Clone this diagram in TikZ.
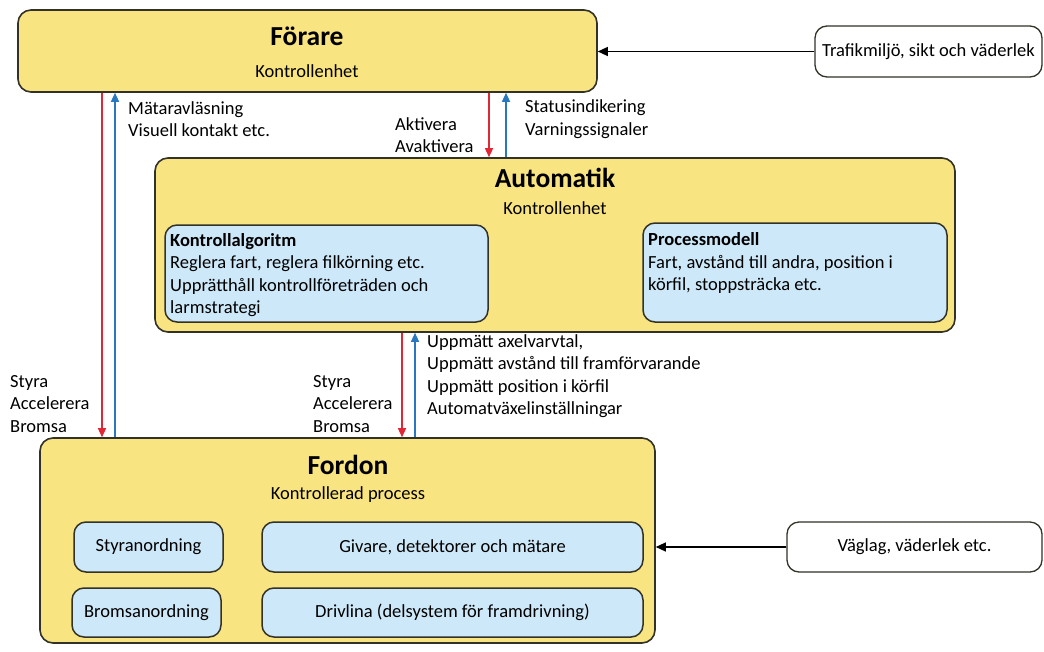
\documentclass[tikz,border=0pt]{standalone}
\usepackage{fontspec}
\setmainfont{Carlito}
\usetikzlibrary{arrows.meta,fit}
\definecolor{yel}{RGB}{249,228,130}
\definecolor{lblue}{RGB}{205,232,248}
\definecolor{bord}{RGB}{50,50,40}
\definecolor{rarr}{RGB}{226,38,52}
\definecolor{barr}{RGB}{40,120,192}
\begin{document}
\begin{tikzpicture}[x=1pt,y=-1pt,
  ybox/.style={draw=bord, line width=1.6pt, fill=yel, rounded corners=13pt, inner sep=0pt},
  bbox/.style={draw=bord, line width=1.5pt, fill=lblue, rounded corners=12pt, inner sep=0pt},
  wbox/.style={draw=bord, line width=1.3pt, fill=white, rounded corners=12pt, inner sep=0pt},
  txt/.style={font=\fontsize{18.5}{22.5}\selectfont, inner sep=0pt, align=left},
  ttl/.style={font=\fontsize{27.5}{30}\selectfont\bfseries, inner sep=0pt},
  redarr/.style={draw=rarr, line width=1.3pt, -{Triangle[length=9pt,width=8pt]}},
  bluearr/.style={draw=barr, line width=1.3pt, -{Triangle[length=9pt,width=8pt]}},
  blkarr/.style={draw=black, line width=1.3pt, -{Triangle[length=10pt,width=9pt]}}
]
\useasboundingbox (0,0) rectangle (1044,651);
\fill[white] (0,0) rectangle (1044,651);

% main boxes
\node[ybox, fit={(18,10) (597,92)}] (forare) {};
\node[ttl] (forareT) at (307,36) {Förare};
\node[txt] (forareS) at (307,71) {Kontrollenhet};

\node[wbox, fit={(815,26) (1042,77)}] (trafik) {};
\node[txt] (trafikT) at (trafik.center) {Trafikmiljö, sikt och väderlek};

\node[ybox, fit={(155,158) (955,332)}] (auto) {};
\node[ttl] (autoT) at (555,178) {Automatik};
\node[txt] (autoS) at (555,208) {Kontrollenhet};

\node[bbox, fit={(165,225) (488,322)}] (kalg) {};
\node[txt, anchor=west] (kalgT) at (170,275) {\textbf{Kontrollalgoritm}\\Reglera fart, reglera filkörning etc.\\Upprätthåll kontrollföreträden och\\larmstrategi};

\node[bbox, fit={(643,223) (947,322)}] (pmod) {};
\node[txt, anchor=west] (pmodT) at (648,263) {\textbf{Processmodell}\\Fart, avstånd till andra, position i\\körfil, stoppsträcka etc.};

\node[ybox, fit={(40,438) (655,643)}] (fordon) {};
\node[ttl] (fordonT) at (348,465) {Fordon};
\node[txt] (fordonS) at (348,495) {Kontrollerad process};

\node[bbox, fit={(74,522) (223,572)}] (styr) {};
\node[txt] at (styr.center) {Styranordning};
\node[bbox, fit={(72,588) (221,637)}] (broms) {};
\node[txt] at (broms.center) {Bromsanordning};
\node[bbox, fit={(262,522) (643,572)}] (givare) {};
\node[txt] at (givare.center) {Givare, detektorer och mätare};
\node[bbox, fit={(262,588) (643,637)}] (driv) {};
\node[txt] at (driv.center) {Drivlina (delsystem för framdrivning)};

\node[wbox, fit={(787,522) (1042,572)}] (vaglag) {};
\node[txt] (vaglagT) at (vaglag.center) {Väglag, väderlek etc.};

% x positions of vertical connectors
\coordinate (xr1) at (102,0);
\coordinate (xb1) at (115,0);
\coordinate (xr2) at (489,0);
\coordinate (xb2) at (506,0);
\coordinate (xr3) at (402,0);
\coordinate (xb3) at (415,0);

\draw[redarr] (forare.south -| xr1) -- (fordon.north -| xr1);
\draw[bluearr] (fordon.north -| xb1) -- (forare.south -| xb1);
\draw[redarr] (forare.south -| xr2) -- (auto.north -| xr2);
\draw[bluearr] (auto.north -| xb2) -- (forare.south -| xb2);
\draw[redarr] (auto.south -| xr3) -- (fordon.north -| xr3);
\draw[bluearr] (fordon.north -| xb3) -- (auto.south -| xb3);

\draw[blkarr] (trafik.west) -- (trafik.west -| forare.east);
\draw[blkarr] (vaglag.west) -- (vaglag.west -| fordon.east);

% labels
\node[txt, anchor=west] (l1) at (128,119) {Mätaravläsning\\Visuell kontakt etc.};
\node[txt, anchor=west] (l2) at (395,135) {Aktivera\\Avaktivera};
\node[txt, anchor=west] (l3) at (525,119) {Statusindikering\\Varningssignaler};
\node[txt, anchor=west] (l4) at (10,404) {Styra\\Accelerera\\Bromsa};
\node[txt, anchor=west] (l5) at (313,404) {Styra\\Accelerera\\Bromsa};
\node[txt, anchor=west] (l6) at (427,376) {Uppmätt axelvarvtal,\\Uppmätt avstånd till framförvarande\\Uppmätt position i körfil\\Automatväxelinställningar};
\end{tikzpicture}
\end{document}
